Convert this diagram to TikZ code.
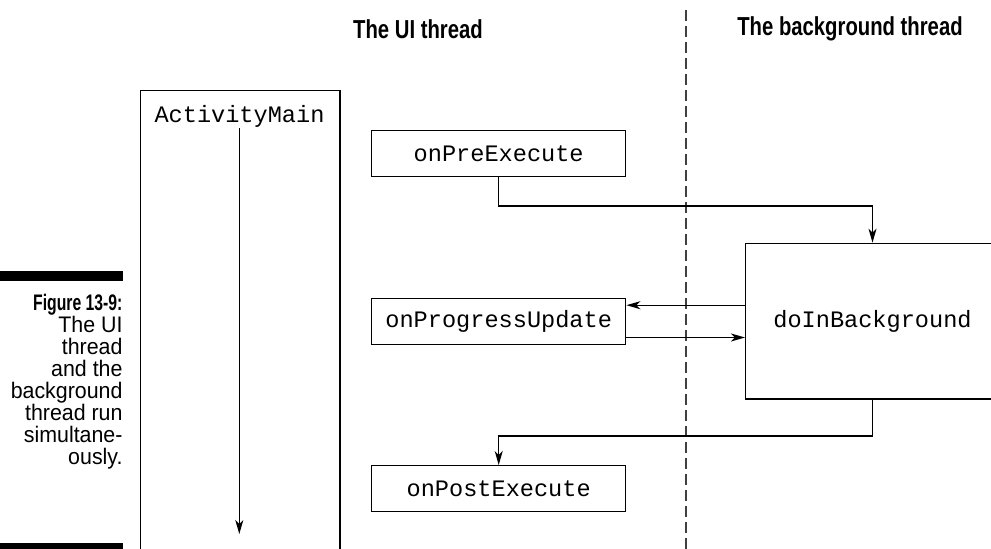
\documentclass[tikz,border=0pt]{standalone}
\usepackage{fontspec}
\setmainfont{Liberation Sans}
\newfontfamily\codefont{Liberation Mono}
\newfontfamily\headfont[FakeStretch=0.78]{Liberation Sans}
\newfontfamily\capfont[FakeStretch=0.95]{Liberation Sans}
\newfontfamily\capboldfont[FakeStretch=0.7]{Liberation Sans}
\usetikzlibrary{arrows.meta}
\tikzset{
  codebox/.style={draw, line width=1.4pt, inner sep=0pt, minimum width=254pt, minimum height=46pt,
    font=\codefont\fontsize{23.6}{28}\selectfont},
  codetext/.style={inner sep=0pt, font=\codefont\fontsize{23.6}{28}\selectfont},
  conn/.style={line width=1.4pt, -{Stealth[length=14pt,width=8pt,inset=4pt]}},
  head/.style={inner sep=0pt, font=\headfont\bfseries\fontsize{26}{30}\selectfont},
  caption/.style={inner sep=0pt, align=right, font=\capfont\fontsize{22.5}{22}\selectfont},
  bar/.style={fill=black, draw=none}
}
\begin{document}
\begin{tikzpicture}[x=1pt,y=-1pt]
\useasboundingbox (0,0) rectangle (991,549);
\clip (0,0) rectangle (991,549);
% caption bars
\fill[bar] (0,271) rectangle (122.7,281);
\fill[bar] (0,542.7) rectangle (122.7,560);
\node[caption, anchor=north east] (cap) at (122.7,294)
  {{\capboldfont\bfseries Figure 13-9:}\\The UI\\thread\\and the\\background\\thread run\\simultane-\\ously.};
% headers
\node[head] (hui) at (418,29) {The UI thread};
\node[head] (hbg) at (850,29) {The background thread};
% dashed divider
\coordinate (dtop) at (686,10);
\coordinate (dbot) at (686,560);
\draw[line width=1.3pt, black!75, dash pattern=on 10.7pt off 5.3pt] (dtop) -- (dbot);
% ActivityMain box (open at bottom)
\node[draw, line width=1.4pt, inner sep=0pt, minimum width=199.3pt, minimum height=480pt, anchor=north west] (am) at (140,90) {};
\node[codetext] (amt) at (239.5,116) {ActivityMain};
\coordinate (amtop) at (239.3,128);
\coordinate (ambot) at (239.3,534);
\draw[conn] (amtop) -- (ambot);
% UI thread boxes
\node[codebox] (pre) at (498.7,153.7) {onPreExecute};
\node[codebox] (prog) at (498.7,321.5) {onProgressUpdate};
\node[codebox] (post) at (498.7,488.7) {onPostExecute};
% background box
\node[draw, line width=1.4pt, inner sep=0pt, minimum width=253.6pt, minimum height=155.7pt,
  font=\codefont\fontsize{23.6}{28}\selectfont] (bg) at (872.5,321.2) {doInBackground};
% connectors
\coordinate (h1) at (0,206);
\coordinate (h2) at (0,436);
\draw[conn] (pre.south) -- (pre.south |- h1) -| (bg.north);
\draw[conn] (bg.south) -- (bg.south |- h2) -| (post.north);
\draw[conn] ([yshift=16pt]bg.west) -- ([yshift=16pt]bg.west -| prog.east);
\draw[conn] ([yshift=-16pt]prog.east) -- ([yshift=-16pt]prog.east -| bg.west);
\end{tikzpicture}
\end{document}
